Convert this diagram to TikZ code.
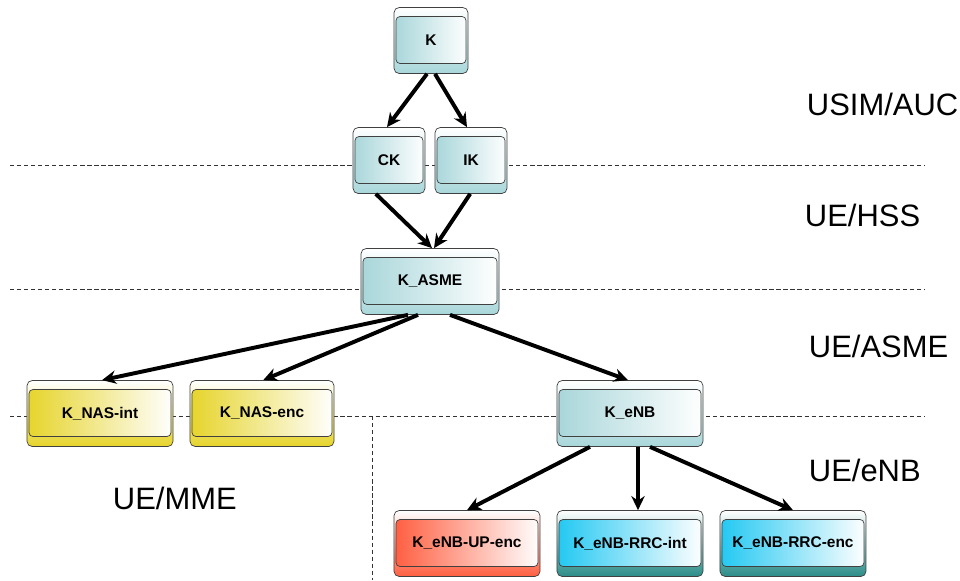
\documentclass[tikz,border=0pt]{standalone}
\usepackage{fontspec}
\setmainfont{Liberation Sans}
\usetikzlibrary{arrows.meta}

\definecolor{keyteal}{HTML}{A8D6DA}
\definecolor{keyyellow}{HTML}{E6D42A}
\definecolor{keyred}{HTML}{FF5E40}
\definecolor{keyblue}{HTML}{22C8F2}
\definecolor{keydark}{HTML}{2A8C88}

\tikzset{
  keybox/.style 2 args={rectangle, rounded corners=0.13cm, draw=black!75, line width=0.5pt,
    top color=white, bottom color=#2, minimum height=1.65cm, inner sep=0pt,
    font=\bfseries\fontsize{11}{13}\selectfont,
    path picture={\draw[rounded corners=0.1cm, draw=black!75, line width=0.5pt, left color=#1, right color=white]
      ([shift={(0.05cm,-0.225cm)}]path picture bounding box.north west) rectangle
      ([shift={(-0.05cm,0.25cm)}]path picture bounding box.south east);}},
  keyarrow/.style={line width=2.8pt, -{Stealth[length=10pt,width=9.5pt]}},
  layerline/.style={dash pattern=on 3pt off 2pt, line width=0.5pt, black!80},
  layer/.style={anchor=west, font=\fontsize{22}{26}\selectfont}
}

\begin{document}
\begin{tikzpicture}[x=0.025cm, y=-0.025cm]
  \useasboundingbox (0,0) rectangle (960,580);

  % layer borders
  \draw[layerline] (10,165) -- (925,165);
  \draw[layerline] (10,289) -- (925,289);
  \draw[layerline] (10,416) -- (925,416);
  \draw[layerline] (372,416) -- (372,580);

  % layer names
  \node[layer] (usim) at (802,104) {USIM/AUC};
  \node[layer] (hss) at (800,215) {UE/HSS};
  \node[layer] (asme) at (804,346) {UE/ASME};
  \node[layer] (enb) at (804,470) {UE/eNB};
  \node[layer] (mme) at (108,498) {UE/MME};

  % keys
  \node[keybox={keyteal}{keyteal}, minimum width=1.85cm] (K) at (431,40.5) {K};
  \node[keybox={keyteal}{keyteal}, minimum width=1.8cm] (CK) at (389,160.5) {CK};
  \node[keybox={keyteal}{keyteal}, minimum width=1.8cm] (IK) at (471,160.5) {IK};
  \node[keybox={keyteal}{keyteal}, minimum width=3.45cm] (KASME) at (430,281.5) {K\_ASME};
  \node[keybox={keyyellow}{keyyellow}, minimum width=3.65cm] (NASint) at (100,413.5) {K\_NAS-int};
  \node[keybox={keyyellow}{keyyellow}, minimum width=3.6cm] (NASenc) at (262,413.5) {K\_NAS-enc};
  \node[keybox={keyteal}{keyteal}, minimum width=3.65cm] (KeNB) at (630,413.5) {K\_eNB};
  \node[keybox={keyred}{keyred}, minimum width=3.65cm] (UPenc) at (467,543.5) {K\_eNB-UP-enc};
  \node[keybox={keyblue}{keydark}, minimum width=3.65cm] (RRCint) at (630,543.5) {K\_eNB-RRC-int};
  \node[keybox={keyblue}{keydark}, minimum width=3.65cm] (RRCenc) at (793,543.5) {K\_eNB-RRC-enc};

  % derivations
  \draw[keyarrow] ([xshift=-0.1cm]K.south) -- ([xshift=-0.05cm]CK.north);
  \draw[keyarrow] ([xshift=0.1cm]K.south) -- ([xshift=-0.1cm]IK.north);
  \draw[keyarrow] ([xshift=-0.33cm]CK.south) -- ([xshift=0.05cm]KASME.north);
  \draw[keyarrow] ([xshift=-0.02cm]IK.south) -- ([xshift=0.1cm]KASME.north);
  \draw[keyarrow] ([xshift=-0.55cm]KASME.south) -- ([xshift=0.05cm]NASint.north);
  \draw[keyarrow] ([xshift=-0.3cm]KASME.south) -- ([xshift=0.03cm]NASenc.north);
  \draw[keyarrow] ([xshift=0.5cm]KASME.south) -- ([xshift=-0.05cm]KeNB.north);
  \draw[keyarrow] ([xshift=-1cm]KeNB.south) -- (UPenc.north);
  \draw[keyarrow] ([xshift=0.2cm]KeNB.south) -- ([xshift=0.2cm]RRCint.north);
  \draw[keyarrow] ([xshift=0.5cm]KeNB.south) -- (RRCenc.north);
\end{tikzpicture}
\end{document}
